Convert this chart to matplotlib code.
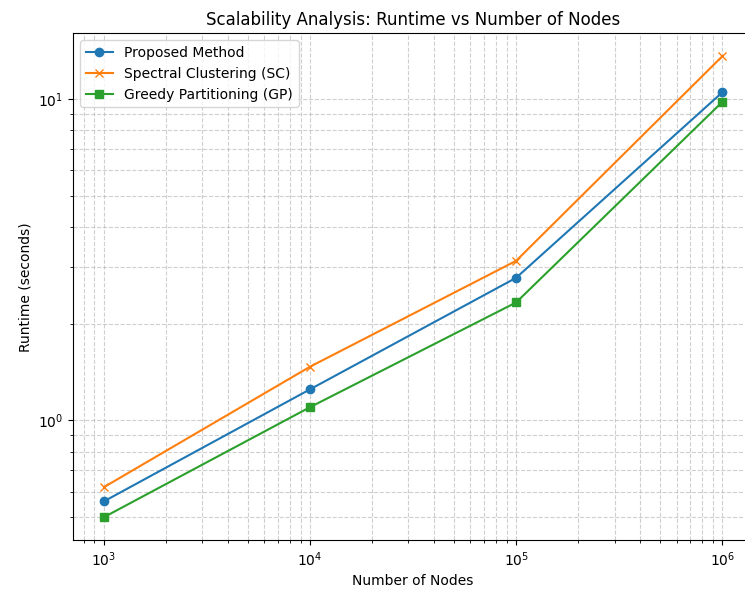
import matplotlib.pyplot as plt

# === DATA ===
nodes = [1e3, 1e4, 1e5, 1e6]
proposed = [0.56, 1.25, 2.78, 10.5]
spectral = [0.62, 1.47, 3.14, 13.6]
greedy = [0.50, 1.10, 2.33, 9.8]

# === PLOT ===
fig, ax = plt.subplots(figsize=(7.45, 5.93), dpi=100)

ax.plot(nodes, proposed, marker='o', label='Proposed Method')
ax.plot(nodes, spectral, marker='x', label='Spectral Clustering (SC)')
ax.plot(nodes, greedy, marker='s', label='Greedy Partitioning (GP)')

ax.set_xscale('log')
ax.set_yscale('log')
ax.set_xlabel('Number of Nodes')
ax.set_ylabel('Runtime (seconds)')
ax.set_title('Scalability Analysis: Runtime vs Number of Nodes')
ax.legend()
ax.grid(True, which='both', linestyle='--', linewidth=0.8, alpha=0.6)

# reference is cropped on the right, so the axes run past the edge
fig.subplots_adjust(left=0.098, right=1.011, top=0.944, bottom=0.089)
plt.savefig('out.png')
